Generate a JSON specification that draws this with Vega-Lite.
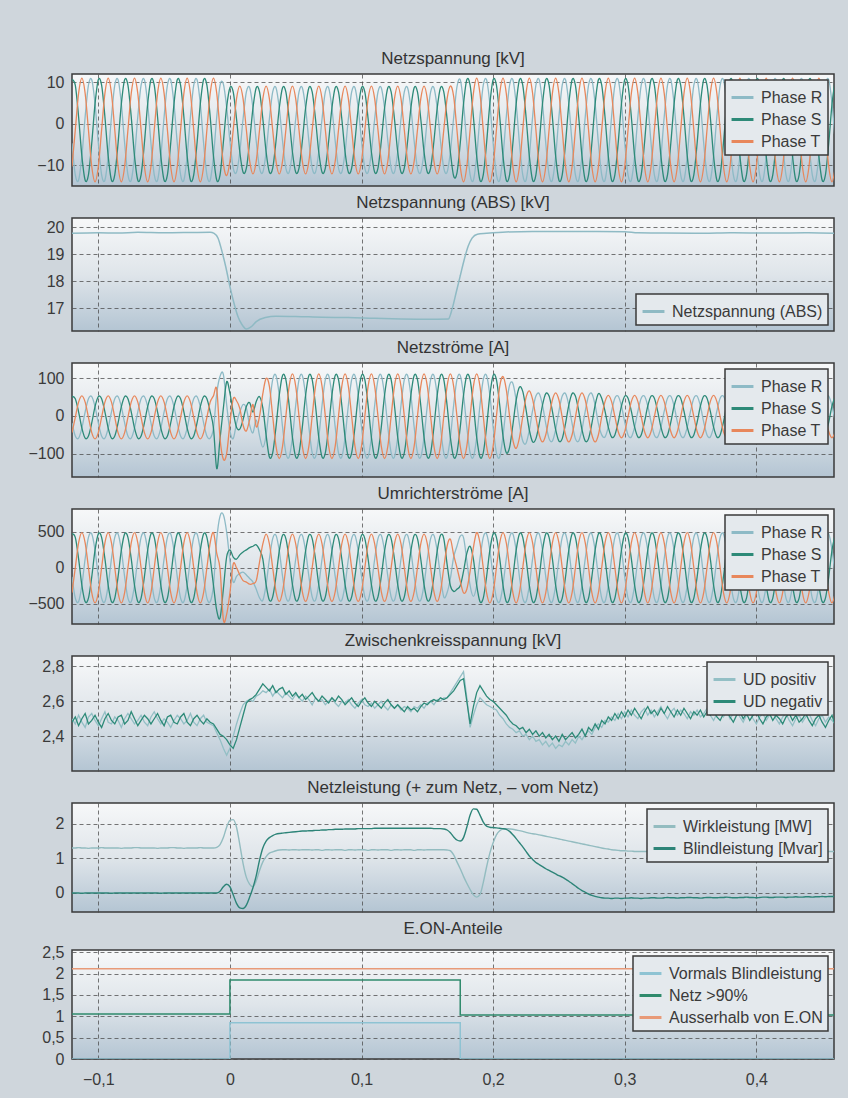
{
"$schema":"https://vega.github.io/schema/vega-lite/v6.json",
"background":"#cfd6dc",
"padding":{"left":27,"top":49,"right":15,"bottom":10},
"spacing":6,
"resolve":{"scale":{"color":"independent","x":"independent","y":"independent"},"legend":{"color":"independent"}},
"config":{
"font":"Liberation Sans",
"view":{"stroke":"#3a3a3a","strokeWidth":1.5,"fill":{"gradient":"linear","x1":0,"y1":0,"x2":0,"y2":1,"stops":[{"offset":0,"color":"#f7f8f9"},{"offset":0.5,"color":"#dfe5ea"},{"offset":1,"color":"#b4c5d3"}]}},
"axis":{"domain":false,"ticks":false,"grid":true,"gridColor":"#4a4a4a","gridDash":[4,3],"gridWidth":1,"gridOpacity":0.75,"labelFontSize":16,"labelColor":"#3a3a3a","labelPadding":8,"labelFont":"Liberation Sans"},
"title":{"fontSize":17,"fontWeight":"normal","color":"#333333","offset":6,"anchor":"middle","font":"Liberation Sans"},
"legend":{"orient":"top-right","offset":6,"padding":5,"strokeColor":"#3a3a3a","strokeWidth":1.5,"fillColor":"#e4e9ed","labelFontSize":16,"labelColor":"#3a3a3a","labelFont":"Liberation Sans","symbolType":"stroke","symbolStrokeWidth":3,"symbolSize":480,"rowPadding":1,"labelOffset":6}
},
"datasets":{
"w":[
{"t":-0.12,"a":-4.7,"b":10.6,"c":-10.3,"d":-18.8,"e":51.1,"f":-44.3,"g":-127,"h":473,"i":-346,"p":2.5,"n":2.48,"w":1.3,"q":0},
{"t":-0.1175,"a":-12.3,"b":9.3,"c":-1.5,"d":-53.4,"e":45.4,"f":-4,"g":-424,"h":424,"i":0,"p":2.47,"n":2.51,"w":1.3,"q":0},
{"t":-0.115,"a":-13.6,"b":1.7,"c":7.3,"d":-59.1,"e":10.8,"f":36.3,"g":-473,"h":127,"i":346,"p":2.52,"n":2.46,"w":1.31,"q":0},
{"t":-0.1125,"a":-7.8,"b":-7.8,"c":11,"d":-32.5,"e":-32.5,"f":53,"g":-245,"h":-245,"i":490,"p":2.48,"n":2.5,"w":1.3,"q":-0.01},
{"t":-0.11,"a":1.7,"b":-13.6,"c":7.3,"d":10.8,"e":-59.1,"f":36.3,"g":127,"h":-473,"i":346,"p":2.45,"n":2.53,"w":1.3,"q":0},
{"t":-0.1075,"a":9.3,"b":-12.3,"c":-1.5,"d":45.4,"e":-53.4,"f":-4,"g":424,"h":-424,"i":0,"p":2.51,"n":2.47,"w":1.29,"q":0},
{"t":-0.105,"a":10.6,"b":-4.7,"c":-10.3,"d":51.1,"e":-18.8,"f":-44.3,"g":473,"h":-127,"i":-346,"p":2.53,"n":2.49,"w":1.3,"q":0},
{"t":-0.1025,"a":4.8,"b":4.8,"c":-14,"d":24.5,"e":24.5,"f":-61,"g":245,"h":245,"i":-490,"p":2.49,"n":2.52,"w":1.3,"q":0},
{"t":-0.1,"a":-4.7,"b":10.6,"c":-10.3,"d":-18.8,"e":51.1,"f":-44.3,"g":-127,"h":473,"i":-346,"p":2.46,"n":2.48,"w":1.3,"q":0},
{"t":-0.0975,"a":-12.3,"b":9.3,"c":-1.5,"d":-53.4,"e":45.4,"f":-4,"g":-424,"h":424,"i":0,"p":2.5,"n":2.45,"w":1.31,"q":0},
{"t":-0.095,"a":-13.6,"b":1.7,"c":7.3,"d":-59.1,"e":10.8,"f":36.3,"g":-473,"h":127,"i":346,"p":2.54,"n":2.5,"w":1.3,"q":0},
{"t":-0.0925,"a":-7.8,"b":-7.8,"c":11,"d":-32.5,"e":-32.5,"f":53,"g":-245,"h":-245,"i":490,"p":2.48,"n":2.53,"w":1.3,"q":0},
{"t":-0.09,"a":1.7,"b":-13.6,"c":7.3,"d":10.8,"e":-59.1,"f":36.3,"g":127,"h":-473,"i":346,"p":2.47,"n":2.49,"w":1.3,"q":-0.01},
{"t":-0.0875,"a":9.3,"b":-12.3,"c":-1.5,"d":45.4,"e":-53.4,"f":-4,"g":424,"h":-424,"i":0,"p":2.51,"n":2.47,"w":1.3,"q":0},
{"t":-0.085,"a":10.6,"b":-4.7,"c":-10.3,"d":51.1,"e":-18.8,"f":-44.3,"g":473,"h":-127,"i":-346,"p":2.49,"n":2.51,"w":1.3,"q":0},
{"t":-0.0825,"a":4.8,"b":4.8,"c":-14,"d":24.5,"e":24.5,"f":-61,"g":245,"h":245,"i":-490,"p":2.45,"n":2.52,"w":1.29,"q":0},
{"t":-0.08,"a":-4.7,"b":10.6,"c":-10.3,"d":-18.8,"e":51.1,"f":-44.3,"g":-127,"h":473,"i":-346,"p":2.5,"n":2.47,"w":1.3,"q":0},
{"t":-0.0775,"a":-12.3,"b":9.3,"c":-1.5,"d":-53.4,"e":45.4,"f":-4,"g":-424,"h":424,"i":0,"p":2.53,"n":2.49,"w":1.3,"q":0},
{"t":-0.075,"a":-13.6,"b":1.7,"c":7.3,"d":-59.1,"e":10.8,"f":36.3,"g":-473,"h":127,"i":346,"p":2.5,"n":2.54,"w":1.3,"q":0},
{"t":-0.0725,"a":-7.8,"b":-7.8,"c":11,"d":-32.5,"e":-32.5,"f":53,"g":-245,"h":-245,"i":490,"p":2.47,"n":2.5,"w":1.31,"q":0},
{"t":-0.07,"a":1.7,"b":-13.6,"c":7.3,"d":10.8,"e":-59.1,"f":36.3,"g":127,"h":-473,"i":346,"p":2.49,"n":2.46,"w":1.31,"q":0},
{"t":-0.0675,"a":9.3,"b":-12.3,"c":-1.5,"d":45.4,"e":-53.4,"f":-4,"g":424,"h":-424,"i":0,"p":2.52,"n":2.49,"w":1.3,"q":0},
{"t":-0.065,"a":10.6,"b":-4.7,"c":-10.3,"d":51.1,"e":-18.8,"f":-44.3,"g":473,"h":-127,"i":-346,"p":2.48,"n":2.52,"w":1.3,"q":0},
{"t":-0.0625,"a":4.8,"b":4.8,"c":-14,"d":24.5,"e":24.5,"f":-61,"g":245,"h":245,"i":-490,"p":2.46,"n":2.5,"w":1.3,"q":0},
{"t":-0.06,"a":-4.7,"b":10.6,"c":-10.3,"d":-18.8,"e":51.1,"f":-44.3,"g":-127,"h":473,"i":-346,"p":2.51,"n":2.47,"w":1.3,"q":0},
{"t":-0.0575,"a":-12.3,"b":9.3,"c":-1.5,"d":-53.4,"e":45.4,"f":-4,"g":-424,"h":424,"i":0,"p":2.54,"n":2.5,"w":1.3,"q":0},
{"t":-0.055,"a":-13.6,"b":1.7,"c":7.3,"d":-59.1,"e":10.8,"f":36.3,"g":-473,"h":127,"i":346,"p":2.5,"n":2.53,"w":1.29,"q":0},
{"t":-0.0525,"a":-7.8,"b":-7.8,"c":11,"d":-32.5,"e":-32.5,"f":53,"g":-245,"h":-245,"i":490,"p":2.47,"n":2.49,"w":1.3,"q":-0.01},
{"t":-0.05,"a":1.7,"b":-13.6,"c":7.3,"d":10.8,"e":-59.1,"f":36.3,"g":127,"h":-473,"i":346,"p":2.5,"n":2.46,"w":1.3,"q":0},
{"t":-0.0475,"a":9.3,"b":-12.3,"c":-1.5,"d":45.4,"e":-53.4,"f":-4,"g":424,"h":-424,"i":0,"p":2.48,"n":2.51,"w":1.3,"q":0},
{"t":-0.045,"a":10.6,"b":-4.7,"c":-10.3,"d":51.1,"e":-18.8,"f":-44.3,"g":473,"h":-127,"i":-346,"p":2.45,"n":2.52,"w":1.31,"q":0},
{"t":-0.0425,"a":4.8,"b":4.8,"c":-14,"d":24.5,"e":24.5,"f":-61,"g":245,"h":245,"i":-490,"p":2.49,"n":2.48,"w":1.31,"q":0},
{"t":-0.04,"a":-4.7,"b":10.6,"c":-10.3,"d":-18.8,"e":51.1,"f":-44.3,"g":-127,"h":473,"i":-346,"p":2.52,"n":2.47,"w":1.3,"q":0},
{"t":-0.0375,"a":-12.3,"b":9.3,"c":-1.5,"d":-53.4,"e":45.4,"f":-4,"g":-424,"h":424,"i":0,"p":2.5,"n":2.51,"w":1.3,"q":0},
{"t":-0.035,"a":-13.6,"b":1.7,"c":7.3,"d":-59.1,"e":10.8,"f":36.3,"g":-473,"h":127,"i":346,"p":2.47,"n":2.53,"w":1.29,"q":0},
{"t":-0.0325,"a":-7.8,"b":-7.8,"c":11,"d":-32.5,"e":-32.5,"f":53,"g":-245,"h":-245,"i":490,"p":2.49,"n":2.48,"w":1.3,"q":0},
{"t":-0.03,"a":1.7,"b":-13.6,"c":7.3,"d":10.8,"e":-59.1,"f":36.3,"g":127,"h":-473,"i":346,"p":2.53,"n":2.46,"w":1.3,"q":0},
{"t":-0.0275,"a":9.3,"b":-12.3,"c":-1.5,"d":45.4,"e":-53.4,"f":-4,"g":424,"h":-424,"i":0,"p":2.48,"n":2.5,"w":1.3,"q":0},
{"t":-0.025,"a":10.6,"b":-4.7,"c":-10.3,"d":51.1,"e":-18.8,"f":-44.3,"g":473,"h":-127,"i":-346,"p":2.46,"n":2.52,"w":1.3,"q":0},
{"t":-0.0225,"a":4.8,"b":4.8,"c":-14,"d":24.5,"e":24.5,"f":-61,"g":245,"h":245,"i":-490,"p":2.5,"n":2.49,"w":1.31,"q":0},
{"t":-0.02,"a":-4.7,"b":10.6,"c":-10.3,"d":-18.8,"e":51.1,"f":-44.3,"g":-127,"h":473,"i":-346,"p":2.52,"n":2.47,"w":1.3,"q":0},
{"t":-0.0175,"a":-12.3,"b":9.3,"c":-1.5,"d":-53.4,"e":45.4,"f":-4,"g":-424,"h":424,"i":0,"p":2.48,"n":2.5,"w":1.3,"q":0},
{"t":-0.015,"a":-13.6,"b":1.7,"c":7.3,"d":-59.1,"e":10.8,"f":36.3,"g":-473,"h":127,"i":346,"p":2.47,"n":2.48,"w":1.3,"q":0},
{"t":-0.0125,"a":-7.8,"b":-7.8,"c":11,"d":-32.5,"e":-32.5,"f":53,"g":-245,"h":-245,"i":490,"p":2.46,"n":2.47,"w":1.3,"q":0},
{"t":-0.01,"a":1.7,"b":-13.6,"c":7.3,"d":60,"e":-140,"f":70,"g":400,"h":-600,"i":200,"p":2.42,"n":2.44,"w":1.32,"q":0},
{"t":-0.0075,"a":9.3,"b":-12.3,"c":-1.5,"d":105,"e":-60,"f":-60,"g":720,"h":-700,"i":-20,"p":2.38,"n":2.41,"w":1.4,"q":0.05},
{"t":-0.005,"a":9.6,"b":-4.5,"c":-9.6,"d":110,"e":20,"f":-115,"g":740,"h":-300,"i":-720,"p":2.33,"n":2.4,"w":1.6,"q":0.18},
{"t":-0.0025,"a":4,"b":4,"c":-12.5,"d":30,"e":90,"f":-100,"g":500,"h":150,"i":-650,"p":2.29,"n":2.38,"w":1.9,"q":0.25},
{"t":0,"a":-4.2,"b":8.7,"c":-9,"d":-40,"e":60,"f":-20,"g":100,"h":250,"i":-350,"p":2.33,"n":2.35,"w":2.1,"q":0.18},
{"t":0.0025,"a":-10.7,"b":7.7,"c":-1.5,"d":-60,"e":10,"f":45,"g":-200,"h":150,"i":50,"p":2.4,"n":2.33,"w":2.12,"q":-0.05},
{"t":0.005,"a":-11.7,"b":1.2,"c":6,"d":-20,"e":-30,"f":40,"g":-120,"h":120,"i":0,"p":2.47,"n":2.38,"w":1.9,"q":-0.3},
{"t":0.0075,"a":-6.8,"b":-6.8,"c":9.1,"d":10,"e":-35,"f":20,"g":-80,"h":180,"i":-100,"p":2.53,"n":2.45,"w":1.4,"q":-0.43},
{"t":0.01,"a":1.2,"b":-11.7,"c":6,"d":30,"e":-10,"f":-25,"g":-60,"h":220,"i":-180,"p":2.58,"n":2.52,"w":0.85,"q":-0.45},
{"t":0.0125,"a":7.7,"b":-10.7,"c":-1.5,"d":20,"e":25,"f":-40,"g":-100,"h":250,"i":-200,"p":2.6,"n":2.59,"w":0.45,"q":-0.35},
{"t":0.015,"a":8.7,"b":-4.2,"c":-9,"d":-25,"e":35,"f":-10,"g":-150,"h":280,"i":-230,"p":2.61,"n":2.61,"w":0.25,"q":-0.12},
{"t":0.0175,"a":3.8,"b":3.8,"c":-12.1,"d":-45,"e":10,"f":30,"g":-200,"h":300,"i":-220,"p":2.6,"n":2.62,"w":0.18,"q":0.15},
{"t":0.02,"a":-4.2,"b":8.7,"c":-9,"d":-11,"e":38,"f":-29,"g":-300,"h":320,"i":-180,"p":2.63,"n":2.64,"w":0.35,"q":0.5},
{"t":0.0225,"a":-10.7,"b":7.7,"c":-1.5,"d":-53,"e":51,"f":-1,"g":-420,"h":250,"i":80,"p":2.64,"n":2.67,"w":0.65,"q":0.95},
{"t":0.025,"a":-11.7,"b":1.2,"c":6,"d":-83,"e":21,"f":59,"g":-454,"h":122,"i":332,"p":2.66,"n":2.7,"w":0.9,"q":1.3},
{"t":0.0275,"a":-6.8,"b":-6.8,"c":9.1,"d":-51,"e":-51,"f":99,"g":-235,"h":-235,"i":470,"p":2.65,"n":2.68,"w":1.05,"q":1.5},
{"t":0.03,"a":1.2,"b":-11.7,"c":6,"d":28,"e":-109.2,"f":78.2,"g":122,"h":-454,"i":332,"p":2.67,"n":2.66,"w":1.15,"q":1.6},
{"t":0.0325,"a":7.7,"b":-10.7,"c":-1.5,"d":96,"e":-98,"f":-1,"g":407,"h":-407,"i":0,"p":2.63,"n":2.69,"w":1.19,"q":1.66},
{"t":0.035,"a":8.7,"b":-4.2,"c":-9,"d":107.2,"e":-30,"f":-80.2,"g":454,"h":-122,"i":-332,"p":2.66,"n":2.65,"w":1.22,"q":1.7},
{"t":0.0375,"a":3.8,"b":3.8,"c":-12.1,"d":55,"e":55,"f":-113,"g":235,"h":235,"i":-470,"p":2.64,"n":2.67,"w":1.24,"q":1.72},
{"t":0.04,"a":-4.2,"b":8.7,"c":-9,"d":-30,"e":107.2,"f":-80.2,"g":-122,"h":454,"i":-332,"p":2.62,"n":2.68,"w":1.25,"q":1.73},
{"t":0.0425,"a":-10.7,"b":7.7,"c":-1.5,"d":-98,"e":96,"f":-1,"g":-407,"h":407,"i":0,"p":2.65,"n":2.64,"w":1.25,"q":1.74},
{"t":0.045,"a":-11.7,"b":1.2,"c":6,"d":-109.2,"e":28,"f":78.2,"g":-454,"h":122,"i":332,"p":2.63,"n":2.66,"w":1.24,"q":1.75},
{"t":0.0475,"a":-6.8,"b":-6.8,"c":9.1,"d":-57,"e":-57,"f":111,"g":-235,"h":-235,"i":470,"p":2.61,"n":2.63,"w":1.25,"q":1.76},
{"t":0.05,"a":1.2,"b":-11.7,"c":6,"d":28,"e":-109.2,"f":78.2,"g":122,"h":-454,"i":332,"p":2.64,"n":2.65,"w":1.25,"q":1.77},
{"t":0.0525,"a":7.7,"b":-10.7,"c":-1.5,"d":96,"e":-98,"f":-1,"g":407,"h":-407,"i":0,"p":2.62,"n":2.62,"w":1.24,"q":1.78},
{"t":0.055,"a":8.7,"b":-4.2,"c":-9,"d":107.2,"e":-30,"f":-80.2,"g":454,"h":-122,"i":-332,"p":2.6,"n":2.64,"w":1.25,"q":1.79},
{"t":0.0575,"a":3.8,"b":3.8,"c":-12.1,"d":55,"e":55,"f":-113,"g":235,"h":235,"i":-470,"p":2.63,"n":2.61,"w":1.25,"q":1.79},
{"t":0.06,"a":-4.2,"b":8.7,"c":-9,"d":-30,"e":107.2,"f":-80.2,"g":-122,"h":454,"i":-332,"p":2.61,"n":2.63,"w":1.25,"q":1.8},
{"t":0.0625,"a":-10.7,"b":7.7,"c":-1.5,"d":-98,"e":96,"f":-1,"g":-407,"h":407,"i":0,"p":2.58,"n":2.65,"w":1.24,"q":1.8},
{"t":0.065,"a":-11.7,"b":1.2,"c":6,"d":-109.2,"e":28,"f":78.2,"g":-454,"h":122,"i":332,"p":2.62,"n":2.62,"w":1.25,"q":1.81},
{"t":0.0675,"a":-6.8,"b":-6.8,"c":9.1,"d":-57,"e":-57,"f":111,"g":-235,"h":-235,"i":470,"p":2.6,"n":2.6,"w":1.25,"q":1.81},
{"t":0.07,"a":1.2,"b":-11.7,"c":6,"d":28,"e":-109.2,"f":78.2,"g":122,"h":-454,"i":332,"p":2.61,"n":2.63,"w":1.23,"q":1.82},
{"t":0.0725,"a":7.7,"b":-10.7,"c":-1.5,"d":96,"e":-98,"f":-1,"g":407,"h":-407,"i":0,"p":2.58,"n":2.61,"w":1.25,"q":1.82},
{"t":0.075,"a":8.7,"b":-4.2,"c":-9,"d":107.2,"e":-30,"f":-80.2,"g":454,"h":-122,"i":-332,"p":2.6,"n":2.59,"w":1.25,"q":1.83},
{"t":0.0775,"a":3.8,"b":3.8,"c":-12.1,"d":55,"e":55,"f":-113,"g":235,"h":235,"i":-470,"p":2.62,"n":2.62,"w":1.24,"q":1.83},
{"t":0.08,"a":-4.2,"b":8.7,"c":-9,"d":-30,"e":107.2,"f":-80.2,"g":-122,"h":454,"i":-332,"p":2.59,"n":2.6,"w":1.25,"q":1.84},
{"t":0.0825,"a":-10.7,"b":7.7,"c":-1.5,"d":-98,"e":96,"f":-1,"g":-407,"h":407,"i":0,"p":2.57,"n":2.63,"w":1.25,"q":1.84},
{"t":0.085,"a":-11.7,"b":1.2,"c":6,"d":-109.2,"e":28,"f":78.2,"g":-454,"h":122,"i":332,"p":2.6,"n":2.61,"w":1.25,"q":1.84},
{"t":0.0875,"a":-6.8,"b":-6.8,"c":9.1,"d":-57,"e":-57,"f":111,"g":-235,"h":-235,"i":470,"p":2.59,"n":2.58,"w":1.23,"q":1.85},
{"t":0.09,"a":1.2,"b":-11.7,"c":6,"d":28,"e":-109.2,"f":78.2,"g":122,"h":-454,"i":332,"p":2.61,"n":2.6,"w":1.25,"q":1.85},
{"t":0.0925,"a":7.7,"b":-10.7,"c":-1.5,"d":96,"e":-98,"f":-1,"g":407,"h":-407,"i":0,"p":2.58,"n":2.62,"w":1.25,"q":1.85},
{"t":0.095,"a":8.7,"b":-4.2,"c":-9,"d":107.2,"e":-30,"f":-80.2,"g":454,"h":-122,"i":-332,"p":2.56,"n":2.59,"w":1.24,"q":1.85},
{"t":0.0975,"a":3.8,"b":3.8,"c":-12.1,"d":55,"e":55,"f":-113,"g":235,"h":235,"i":-470,"p":2.59,"n":2.57,"w":1.25,"q":1.86},
{"t":0.1,"a":-4.2,"b":8.7,"c":-9,"d":-30,"e":107.2,"f":-80.2,"g":-122,"h":454,"i":-332,"p":2.61,"n":2.6,"w":1.25,"q":1.86},
{"t":0.1025,"a":-10.7,"b":7.7,"c":-1.5,"d":-98,"e":96,"f":-1,"g":-407,"h":407,"i":0,"p":2.58,"n":2.62,"w":1.25,"q":1.86},
{"t":0.105,"a":-11.7,"b":1.2,"c":6,"d":-109.2,"e":28,"f":78.2,"g":-454,"h":122,"i":332,"p":2.57,"n":2.59,"w":1.23,"q":1.86},
{"t":0.1075,"a":-6.8,"b":-6.8,"c":9.1,"d":-57,"e":-57,"f":111,"g":-235,"h":-235,"i":470,"p":2.59,"n":2.57,"w":1.25,"q":1.86},
{"t":0.11,"a":1.2,"b":-11.7,"c":6,"d":28,"e":-109.2,"f":78.2,"g":122,"h":-454,"i":332,"p":2.56,"n":2.6,"w":1.25,"q":1.87},
{"t":0.1125,"a":7.7,"b":-10.7,"c":-1.5,"d":96,"e":-98,"f":-1,"g":407,"h":-407,"i":0,"p":2.58,"n":2.58,"w":1.24,"q":1.87},
{"t":0.115,"a":8.7,"b":-4.2,"c":-9,"d":107.2,"e":-30,"f":-80.2,"g":454,"h":-122,"i":-332,"p":2.6,"n":2.56,"w":1.25,"q":1.87},
{"t":0.1175,"a":3.8,"b":3.8,"c":-12.1,"d":55,"e":55,"f":-113,"g":235,"h":235,"i":-470,"p":2.57,"n":2.59,"w":1.25,"q":1.87},
{"t":0.12,"a":-4.2,"b":8.7,"c":-9,"d":-30,"e":107.2,"f":-80.2,"g":-122,"h":454,"i":-332,"p":2.55,"n":2.61,"w":1.25,"q":1.87},
{"t":0.1225,"a":-10.7,"b":7.7,"c":-1.5,"d":-98,"e":96,"f":-1,"g":-407,"h":407,"i":0,"p":2.58,"n":2.58,"w":1.23,"q":1.87},
{"t":0.125,"a":-11.7,"b":1.2,"c":6,"d":-109.2,"e":28,"f":78.2,"g":-454,"h":122,"i":332,"p":2.56,"n":2.56,"w":1.25,"q":1.87},
{"t":0.1275,"a":-6.8,"b":-6.8,"c":9.1,"d":-57,"e":-57,"f":111,"g":-235,"h":-235,"i":470,"p":2.58,"n":2.58,"w":1.25,"q":1.87},
{"t":0.13,"a":1.2,"b":-11.7,"c":6,"d":28,"e":-109.2,"f":78.2,"g":122,"h":-454,"i":332,"p":2.55,"n":2.56,"w":1.24,"q":1.87},
{"t":0.1325,"a":7.7,"b":-10.7,"c":-1.5,"d":96,"e":-98,"f":-1,"g":407,"h":-407,"i":0,"p":2.57,"n":2.54,"w":1.25,"q":1.87},
{"t":0.135,"a":8.7,"b":-4.2,"c":-9,"d":107.2,"e":-30,"f":-80.2,"g":454,"h":-122,"i":-332,"p":2.56,"n":2.57,"w":1.25,"q":1.87},
{"t":0.1375,"a":3.8,"b":3.8,"c":-12.1,"d":55,"e":55,"f":-113,"g":235,"h":235,"i":-470,"p":2.54,"n":2.55,"w":1.25,"q":1.87},
{"t":0.14,"a":-4.2,"b":8.7,"c":-9,"d":-30,"e":107.2,"f":-80.2,"g":-122,"h":454,"i":-332,"p":2.57,"n":2.56,"w":1.23,"q":1.87},
{"t":0.1425,"a":-10.7,"b":7.7,"c":-1.5,"d":-98,"e":96,"f":-1,"g":-407,"h":407,"i":0,"p":2.56,"n":2.54,"w":1.25,"q":1.87},
{"t":0.145,"a":-11.7,"b":1.2,"c":6,"d":-109.2,"e":28,"f":78.2,"g":-454,"h":122,"i":332,"p":2.58,"n":2.57,"w":1.25,"q":1.87},
{"t":0.1475,"a":-6.8,"b":-6.8,"c":9.1,"d":-57,"e":-57,"f":111,"g":-235,"h":-235,"i":470,"p":2.56,"n":2.59,"w":1.24,"q":1.87},
{"t":0.15,"a":1.2,"b":-11.7,"c":6,"d":28,"e":-109.2,"f":78.2,"g":122,"h":-454,"i":332,"p":2.59,"n":2.58,"w":1.25,"q":1.87},
{"t":0.1525,"a":7.7,"b":-10.7,"c":-1.5,"d":96,"e":-98,"f":-1,"g":407,"h":-407,"i":0,"p":2.6,"n":2.6,"w":1.25,"q":1.87},
{"t":0.155,"a":8.7,"b":-4.2,"c":-9,"d":107.2,"e":-30,"f":-80.2,"g":454,"h":-122,"i":-332,"p":2.58,"n":2.61,"w":1.25,"q":1.86},
{"t":0.1575,"a":3.8,"b":3.8,"c":-12.1,"d":55,"e":55,"f":-113,"g":235,"h":235,"i":-470,"p":2.61,"n":2.6,"w":1.25,"q":1.86},
{"t":0.16,"a":-4.2,"b":8.7,"c":-9,"d":-30,"e":107.2,"f":-80.2,"g":-122,"h":454,"i":-332,"p":2.6,"n":2.62,"w":1.25,"q":1.86},
{"t":0.1625,"a":-10.7,"b":7.7,"c":-1.5,"d":-98,"e":96,"f":-1,"g":-407,"h":407,"i":0,"p":2.62,"n":2.61,"w":1.25,"q":1.85},
{"t":0.165,"a":-11.7,"b":1.2,"c":6,"d":-109.2,"e":28,"f":78.2,"g":-350,"h":50,"i":300,"p":2.62,"n":2.62,"w":1.24,"q":1.82},
{"t":0.1675,"a":-6.8,"b":-6.8,"c":9.1,"d":-57,"e":-57,"f":111,"g":-150,"h":-250,"i":400,"p":2.65,"n":2.64,"w":1.22,"q":1.74},
{"t":0.17,"a":1.5,"b":-12.6,"c":6.6,"d":28,"e":-109.2,"f":78.2,"g":150,"h":-330,"i":180,"p":2.68,"n":2.66,"w":1.1,"q":1.62},
{"t":0.1725,"a":8.9,"b":-11.9,"c":-1.5,"d":96,"e":-98,"f":-1,"g":300,"h":-300,"i":0,"p":2.71,"n":2.69,"w":0.9,"q":1.53},
{"t":0.175,"a":10.6,"b":-4.7,"c":-10.3,"d":107.2,"e":-30,"f":-80.2,"g":440,"h":-250,"i":-190,"p":2.74,"n":2.72,"w":0.7,"q":1.5},
{"t":0.1775,"a":4.8,"b":4.8,"c":-14,"d":55,"e":55,"f":-113,"g":420,"h":-50,"i":-350,"p":2.77,"n":2.73,"w":0.48,"q":1.6},
{"t":0.18,"a":-4.7,"b":10.6,"c":-10.3,"d":-30,"e":107.2,"f":-80.2,"g":100,"h":200,"i":-300,"p":2.62,"n":2.6,"w":0.28,"q":1.9},
{"t":0.1825,"a":-12.3,"b":9.3,"c":-1.5,"d":-98,"e":96,"f":-1,"g":-250,"h":300,"i":-50,"p":2.45,"n":2.47,"w":0.1,"q":2.25},
{"t":0.185,"a":-13.6,"b":1.7,"c":7.3,"d":-109.2,"e":28,"f":78.2,"g":-400,"h":120,"i":280,"p":2.52,"n":2.57,"w":-0.05,"q":2.43},
{"t":0.1875,"a":-7.8,"b":-7.8,"c":11,"d":-57,"e":-57,"f":111,"g":-245,"h":-245,"i":490,"p":2.58,"n":2.65,"w":-0.12,"q":2.42},
{"t":0.19,"a":1.7,"b":-13.6,"c":7.3,"d":28,"e":-109.2,"f":78.2,"g":127,"h":-473,"i":346,"p":2.62,"n":2.69,"w":-0.05,"q":2.25},
{"t":0.1925,"a":9.3,"b":-12.3,"c":-1.5,"d":96,"e":-98,"f":-1,"g":424,"h":-424,"i":0,"p":2.6,"n":2.66,"w":0.3,"q":2.05},
{"t":0.195,"a":10.6,"b":-4.7,"c":-10.3,"d":107.2,"e":-30,"f":-80.2,"g":473,"h":-127,"i":-346,"p":2.58,"n":2.63,"w":0.75,"q":1.93},
{"t":0.1975,"a":4.8,"b":4.8,"c":-14,"d":55,"e":55,"f":-113,"g":245,"h":245,"i":-490,"p":2.57,"n":2.61,"w":1.15,"q":1.9},
{"t":0.2,"a":-4.7,"b":10.6,"c":-10.3,"d":-30,"e":107.2,"f":-80.2,"g":-127,"h":473,"i":-346,"p":2.56,"n":2.6,"w":1.45,"q":1.89},
{"t":0.2025,"a":-12.3,"b":9.3,"c":-1.5,"d":-98,"e":96,"f":-1,"g":-424,"h":424,"i":0,"p":2.55,"n":2.58,"w":1.68,"q":1.88},
{"t":0.205,"a":-13.6,"b":1.7,"c":7.3,"d":-109.2,"e":28,"f":78.2,"g":-473,"h":127,"i":346,"p":2.52,"n":2.56,"w":1.8,"q":1.87},
{"t":0.2075,"a":-7.8,"b":-7.8,"c":11,"d":-53.5,"e":-53.5,"f":104,"g":-245,"h":-245,"i":490,"p":2.5,"n":2.54,"w":1.85,"q":1.86},
{"t":0.21,"a":1.7,"b":-13.6,"c":7.3,"d":25,"e":-97.6,"f":69.7,"g":127,"h":-473,"i":346,"p":2.47,"n":2.52,"w":1.86,"q":1.84},
{"t":0.2125,"a":9.3,"b":-12.3,"c":-1.5,"d":81.3,"e":-83.3,"f":-1,"g":424,"h":-424,"i":0,"p":2.45,"n":2.49,"w":1.85,"q":1.78},
{"t":0.215,"a":10.6,"b":-4.7,"c":-10.3,"d":85.9,"e":-24.3,"f":-64.6,"g":473,"h":-127,"i":-346,"p":2.44,"n":2.47,"w":1.84,"q":1.68},
{"t":0.2175,"a":4.8,"b":4.8,"c":-14,"d":41.5,"e":41.5,"f":-86,"g":245,"h":245,"i":-490,"p":2.42,"n":2.46,"w":1.82,"q":1.57},
{"t":0.22,"a":-4.7,"b":10.6,"c":-10.3,"d":-21.7,"e":76.3,"f":-57.6,"g":-127,"h":473,"i":-346,"p":2.43,"n":2.44,"w":1.8,"q":1.45},
{"t":0.2225,"a":-12.3,"b":9.3,"c":-1.5,"d":-66.8,"e":64.8,"f":-2,"g":-424,"h":424,"i":0,"p":2.4,"n":2.45,"w":1.78,"q":1.33},
{"t":0.225,"a":-13.6,"b":1.7,"c":7.3,"d":-72.6,"e":16.6,"f":48.9,"g":-473,"h":127,"i":346,"p":2.41,"n":2.42,"w":1.75,"q":1.2},
{"t":0.2275,"a":-7.8,"b":-7.8,"c":11,"d":-37.5,"e":-37.5,"f":66,"g":-245,"h":-245,"i":490,"p":2.38,"n":2.44,"w":1.73,"q":1.07},
{"t":0.23,"a":1.7,"b":-13.6,"c":7.3,"d":14.4,"e":-68.7,"f":43.4,"g":127,"h":-473,"i":346,"p":2.4,"n":2.41,"w":1.71,"q":0.97},
{"t":0.2325,"a":9.3,"b":-12.3,"c":-1.5,"d":52.3,"e":-60.3,"f":-4,"g":424,"h":-424,"i":0,"p":2.37,"n":2.43,"w":1.7,"q":0.88},
{"t":0.235,"a":10.6,"b":-4.7,"c":-10.3,"d":58.8,"e":-20.8,"f":-50,"g":473,"h":-127,"i":-346,"p":2.38,"n":2.4,"w":1.68,"q":0.82},
{"t":0.2375,"a":4.8,"b":4.8,"c":-14,"d":28.5,"e":28.5,"f":-69,"g":245,"h":245,"i":-490,"p":2.35,"n":2.42,"w":1.66,"q":0.76},
{"t":0.24,"a":-4.7,"b":10.6,"c":-10.3,"d":-20.8,"e":58.8,"f":-50,"g":-127,"h":473,"i":-346,"p":2.37,"n":2.39,"w":1.64,"q":0.7},
{"t":0.2425,"a":-12.3,"b":9.3,"c":-1.5,"d":-60.3,"e":52.3,"f":-4,"g":-424,"h":424,"i":0,"p":2.34,"n":2.41,"w":1.62,"q":0.65},
{"t":0.245,"a":-13.6,"b":1.7,"c":7.3,"d":-66.8,"e":12.8,"f":42,"g":-473,"h":127,"i":346,"p":2.36,"n":2.38,"w":1.6,"q":0.6},
{"t":0.2475,"a":-7.8,"b":-7.8,"c":11,"d":-36.5,"e":-36.5,"f":61,"g":-245,"h":-245,"i":490,"p":2.33,"n":2.4,"w":1.58,"q":0.55},
{"t":0.25,"a":1.7,"b":-13.6,"c":7.3,"d":12.8,"e":-66.8,"f":42,"g":127,"h":-473,"i":346,"p":2.35,"n":2.37,"w":1.56,"q":0.5},
{"t":0.2525,"a":9.3,"b":-12.3,"c":-1.5,"d":52.3,"e":-60.3,"f":-4,"g":424,"h":-424,"i":0,"p":2.34,"n":2.41,"w":1.54,"q":0.46},
{"t":0.255,"a":10.6,"b":-4.7,"c":-10.3,"d":58.8,"e":-20.8,"f":-50,"g":473,"h":-127,"i":-346,"p":2.37,"n":2.38,"w":1.52,"q":0.4},
{"t":0.2575,"a":4.8,"b":4.8,"c":-14,"d":28.5,"e":28.5,"f":-69,"g":245,"h":245,"i":-490,"p":2.35,"n":2.4,"w":1.5,"q":0.34},
{"t":0.26,"a":-4.7,"b":10.6,"c":-10.3,"d":-20.8,"e":58.8,"f":-50,"g":-127,"h":473,"i":-346,"p":2.38,"n":2.42,"w":1.48,"q":0.27},
{"t":0.2625,"a":-12.3,"b":9.3,"c":-1.5,"d":-60.3,"e":52.3,"f":-4,"g":-424,"h":424,"i":0,"p":2.36,"n":2.39,"w":1.46,"q":0.2},
{"t":0.265,"a":-13.6,"b":1.7,"c":7.3,"d":-66.8,"e":12.8,"f":42,"g":-473,"h":127,"i":346,"p":2.4,"n":2.41,"w":1.44,"q":0.13},
{"t":0.2675,"a":-7.8,"b":-7.8,"c":11,"d":-36.5,"e":-36.5,"f":61,"g":-245,"h":-245,"i":490,"p":2.38,"n":2.44,"w":1.42,"q":0.07},
{"t":0.27,"a":1.7,"b":-13.6,"c":7.3,"d":12.8,"e":-66.8,"f":42,"g":127,"h":-473,"i":346,"p":2.41,"n":2.4,"w":1.4,"q":0.02},
{"t":0.2725,"a":9.3,"b":-12.3,"c":-1.5,"d":52.3,"e":-60.3,"f":-4,"g":424,"h":-424,"i":0,"p":2.43,"n":2.45,"w":1.38,"q":-0.03},
{"t":0.275,"a":10.6,"b":-4.7,"c":-10.3,"d":58.8,"e":-20.8,"f":-50,"g":473,"h":-127,"i":-346,"p":2.41,"n":2.43,"w":1.36,"q":-0.07},
{"t":0.2775,"a":4.8,"b":4.8,"c":-14,"d":28.5,"e":28.5,"f":-69,"g":245,"h":245,"i":-490,"p":2.45,"n":2.47,"w":1.34,"q":-0.1},
{"t":0.28,"a":-4.7,"b":10.6,"c":-10.3,"d":-20.8,"e":58.8,"f":-50,"g":-127,"h":473,"i":-346,"p":2.47,"n":2.44,"w":1.32,"q":-0.12},
{"t":0.2825,"a":-12.3,"b":9.3,"c":-1.5,"d":-50.5,"e":46.5,"f":-2,"g":-424,"h":424,"i":0,"p":2.45,"n":2.49,"w":1.3,"q":-0.14},
{"t":0.285,"a":-13.6,"b":1.7,"c":7.3,"d":-56.1,"e":12.5,"f":37.6,"g":-473,"h":127,"i":346,"p":2.49,"n":2.47,"w":1.28,"q":-0.15},
{"t":0.2875,"a":-7.8,"b":-7.8,"c":11,"d":-30,"e":-30,"f":54,"g":-245,"h":-245,"i":490,"p":2.48,"n":2.51,"w":1.27,"q":-0.15},
{"t":0.29,"a":1.7,"b":-13.6,"c":7.3,"d":12.5,"e":-56.1,"f":37.6,"g":127,"h":-473,"i":346,"p":2.51,"n":2.49,"w":1.25,"q":-0.16},
{"t":0.2925,"a":9.3,"b":-12.3,"c":-1.5,"d":46.5,"e":-50.5,"f":-2,"g":424,"h":-424,"i":0,"p":2.49,"n":2.53,"w":1.24,"q":-0.15},
{"t":0.295,"a":10.6,"b":-4.7,"c":-10.3,"d":52.1,"e":-16.5,"f":-41.6,"g":473,"h":-127,"i":-346,"p":2.53,"n":2.5,"w":1.23,"q":-0.15},
{"t":0.2975,"a":4.8,"b":4.8,"c":-14,"d":26,"e":26,"f":-58,"g":245,"h":245,"i":-490,"p":2.5,"n":2.54,"w":1.22,"q":-0.16},
{"t":0.3,"a":-4.7,"b":10.6,"c":-10.3,"d":-16.5,"e":52.1,"f":-41.6,"g":-127,"h":473,"i":-346,"p":2.54,"n":2.51,"w":1.22,"q":-0.15},
{"t":0.3025,"a":-12.3,"b":9.3,"c":-1.5,"d":-50.5,"e":46.5,"f":-2,"g":-424,"h":424,"i":0,"p":2.51,"n":2.55,"w":1.21,"q":-0.15},
{"t":0.305,"a":-13.6,"b":1.7,"c":7.3,"d":-56.1,"e":12.5,"f":37.6,"g":-473,"h":127,"i":346,"p":2.55,"n":2.52,"w":1.21,"q":-0.14},
{"t":0.3075,"a":-7.8,"b":-7.8,"c":11,"d":-30,"e":-30,"f":54,"g":-245,"h":-245,"i":490,"p":2.52,"n":2.56,"w":1.2,"q":-0.15},
{"t":0.31,"a":1.7,"b":-13.6,"c":7.3,"d":12.5,"e":-56.1,"f":37.6,"g":127,"h":-473,"i":346,"p":2.5,"n":2.53,"w":1.2,"q":-0.15},
{"t":0.3125,"a":9.3,"b":-12.3,"c":-1.5,"d":46.5,"e":-50.5,"f":-2,"g":424,"h":-424,"i":0,"p":2.54,"n":2.5,"w":1.2,"q":-0.16},
{"t":0.315,"a":10.6,"b":-4.7,"c":-10.3,"d":52.1,"e":-16.5,"f":-41.6,"g":473,"h":-127,"i":-346,"p":2.56,"n":2.54,"w":1.2,"q":-0.15},
{"t":0.3175,"a":4.8,"b":4.8,"c":-14,"d":26,"e":26,"f":-58,"g":245,"h":245,"i":-490,"p":2.52,"n":2.57,"w":1.2,"q":-0.15},
{"t":0.32,"a":-4.7,"b":10.6,"c":-10.3,"d":-16.5,"e":52.1,"f":-41.6,"g":-127,"h":473,"i":-346,"p":2.55,"n":2.53,"w":1.2,"q":-0.14},
{"t":0.3225,"a":-12.3,"b":9.3,"c":-1.5,"d":-50.5,"e":46.5,"f":-2,"g":-424,"h":424,"i":0,"p":2.51,"n":2.55,"w":1.2,"q":-0.14},
{"t":0.325,"a":-13.6,"b":1.7,"c":7.3,"d":-56.1,"e":12.5,"f":37.6,"g":-473,"h":127,"i":346,"p":2.54,"n":2.52,"w":1.2,"q":-0.15},
{"t":0.3275,"a":-7.8,"b":-7.8,"c":11,"d":-30,"e":-30,"f":54,"g":-245,"h":-245,"i":490,"p":2.57,"n":2.56,"w":1.2,"q":-0.15},
{"t":0.33,"a":1.7,"b":-13.6,"c":7.3,"d":12.5,"e":-56.1,"f":37.6,"g":127,"h":-473,"i":346,"p":2.53,"n":2.53,"w":1.2,"q":-0.14},
{"t":0.3325,"a":9.3,"b":-12.3,"c":-1.5,"d":46.5,"e":-50.5,"f":-2,"g":424,"h":-424,"i":0,"p":2.5,"n":2.57,"w":1.2,"q":-0.13},
{"t":0.335,"a":10.6,"b":-4.7,"c":-10.3,"d":52.1,"e":-16.5,"f":-41.6,"g":473,"h":-127,"i":-346,"p":2.54,"n":2.54,"w":1.2,"q":-0.14},
{"t":0.3375,"a":4.8,"b":4.8,"c":-14,"d":26,"e":26,"f":-58,"g":245,"h":245,"i":-490,"p":2.56,"n":2.51,"w":1.2,"q":-0.14},
{"t":0.34,"a":-4.7,"b":10.6,"c":-10.3,"d":-16.5,"e":52.1,"f":-41.6,"g":-127,"h":473,"i":-346,"p":2.52,"n":2.55,"w":1.2,"q":-0.15},
{"t":0.3425,"a":-12.3,"b":9.3,"c":-1.5,"d":-50.5,"e":46.5,"f":-2,"g":-424,"h":424,"i":0,"p":2.55,"n":2.52,"w":1.2,"q":-0.14},
{"t":0.345,"a":-13.6,"b":1.7,"c":7.3,"d":-56.1,"e":12.5,"f":37.6,"g":-473,"h":127,"i":346,"p":2.53,"n":2.56,"w":1.2,"q":-0.14},
{"t":0.3475,"a":-7.8,"b":-7.8,"c":11,"d":-30,"e":-30,"f":54,"g":-245,"h":-245,"i":490,"p":2.5,"n":2.53,"w":1.2,"q":-0.13},
{"t":0.35,"a":1.7,"b":-13.6,"c":7.3,"d":12.5,"e":-56.1,"f":37.6,"g":127,"h":-473,"i":346,"p":2.54,"n":2.5,"w":1.2,"q":-0.13},
{"t":0.3525,"a":9.3,"b":-12.3,"c":-1.5,"d":46.5,"e":-50.5,"f":-2,"g":424,"h":-424,"i":0,"p":2.52,"n":2.54,"w":1.2,"q":-0.14},
{"t":0.355,"a":10.6,"b":-4.7,"c":-10.3,"d":52.1,"e":-16.5,"f":-41.6,"g":473,"h":-127,"i":-346,"p":2.55,"n":2.52,"w":1.2,"q":-0.14},
{"t":0.3575,"a":4.8,"b":4.8,"c":-14,"d":26,"e":26,"f":-58,"g":245,"h":245,"i":-490,"p":2.51,"n":2.55,"w":1.2,"q":-0.15},
{"t":0.36,"a":-4.7,"b":10.6,"c":-10.3,"d":-16.5,"e":52.1,"f":-41.6,"g":-127,"h":473,"i":-346,"p":2.53,"n":2.51,"w":1.2,"q":-0.14},
{"t":0.3625,"a":-12.3,"b":9.3,"c":-1.5,"d":-50.5,"e":46.5,"f":-2,"g":-424,"h":424,"i":0,"p":2.56,"n":2.54,"w":1.2,"q":-0.13},
{"t":0.365,"a":-13.6,"b":1.7,"c":7.3,"d":-56.1,"e":12.5,"f":37.6,"g":-473,"h":127,"i":346,"p":2.52,"n":2.52,"w":1.2,"q":-0.13},
{"t":0.3675,"a":-7.8,"b":-7.8,"c":11,"d":-30,"e":-30,"f":54,"g":-245,"h":-245,"i":490,"p":2.49,"n":2.55,"w":1.2,"q":-0.14},
{"t":0.37,"a":1.7,"b":-13.6,"c":7.3,"d":12.5,"e":-56.1,"f":37.6,"g":127,"h":-473,"i":346,"p":2.53,"n":2.51,"w":1.2,"q":-0.14},
{"t":0.3725,"a":9.3,"b":-12.3,"c":-1.5,"d":46.5,"e":-50.5,"f":-2,"g":424,"h":-424,"i":0,"p":2.55,"n":2.49,"w":1.2,"q":-0.13},
{"t":0.375,"a":10.6,"b":-4.7,"c":-10.3,"d":52.1,"e":-16.5,"f":-41.6,"g":473,"h":-127,"i":-346,"p":2.51,"n":2.53,"w":1.2,"q":-0.13},
{"t":0.3775,"a":4.8,"b":4.8,"c":-14,"d":26,"e":26,"f":-58,"g":245,"h":245,"i":-490,"p":2.54,"n":2.55,"w":1.2,"q":-0.12},
{"t":0.38,"a":-4.7,"b":10.6,"c":-10.3,"d":-16.5,"e":52.1,"f":-41.6,"g":-127,"h":473,"i":-346,"p":2.5,"n":2.51,"w":1.2,"q":-0.13},
{"t":0.3825,"a":-12.3,"b":9.3,"c":-1.5,"d":-50.5,"e":46.5,"f":-2,"g":-424,"h":424,"i":0,"p":2.53,"n":2.48,"w":1.2,"q":-0.14},
{"t":0.385,"a":-13.6,"b":1.7,"c":7.3,"d":-56.1,"e":12.5,"f":37.6,"g":-473,"h":127,"i":346,"p":2.55,"n":2.52,"w":1.2,"q":-0.14},
{"t":0.3875,"a":-7.8,"b":-7.8,"c":11,"d":-30,"e":-30,"f":54,"g":-245,"h":-245,"i":490,"p":2.51,"n":2.54,"w":1.2,"q":-0.13},
{"t":0.39,"a":1.7,"b":-13.6,"c":7.3,"d":12.5,"e":-56.1,"f":37.6,"g":127,"h":-473,"i":346,"p":2.48,"n":2.5,"w":1.2,"q":-0.13},
{"t":0.3925,"a":9.3,"b":-12.3,"c":-1.5,"d":46.5,"e":-50.5,"f":-2,"g":424,"h":-424,"i":0,"p":2.52,"n":2.53,"w":1.2,"q":-0.12},
{"t":0.395,"a":10.6,"b":-4.7,"c":-10.3,"d":52.1,"e":-16.5,"f":-41.6,"g":473,"h":-127,"i":-346,"p":2.54,"n":2.49,"w":1.2,"q":-0.13},
{"t":0.3975,"a":4.8,"b":4.8,"c":-14,"d":26,"e":26,"f":-58,"g":245,"h":245,"i":-490,"p":2.5,"n":2.52,"w":1.2,"q":-0.13},
{"t":0.4,"a":-4.7,"b":10.6,"c":-10.3,"d":-16.5,"e":52.1,"f":-41.6,"g":-127,"h":473,"i":-346,"p":2.47,"n":2.54,"w":1.2,"q":-0.14},
{"t":0.4025,"a":-12.3,"b":9.3,"c":-1.5,"d":-50.5,"e":46.5,"f":-2,"g":-424,"h":424,"i":0,"p":2.51,"n":2.5,"w":1.2,"q":-0.13},
{"t":0.405,"a":-13.6,"b":1.7,"c":7.3,"d":-56.1,"e":12.5,"f":37.6,"g":-473,"h":127,"i":346,"p":2.53,"n":2.47,"w":1.2,"q":-0.12},
{"t":0.4075,"a":-7.8,"b":-7.8,"c":11,"d":-30,"e":-30,"f":54,"g":-245,"h":-245,"i":490,"p":2.49,"n":2.51,"w":1.2,"q":-0.12},
{"t":0.41,"a":1.7,"b":-13.6,"c":7.3,"d":12.5,"e":-56.1,"f":37.6,"g":127,"h":-473,"i":346,"p":2.52,"n":2.53,"w":1.2,"q":-0.13},
{"t":0.4125,"a":9.3,"b":-12.3,"c":-1.5,"d":46.5,"e":-50.5,"f":-2,"g":424,"h":-424,"i":0,"p":2.54,"n":2.49,"w":1.2,"q":-0.13},
{"t":0.415,"a":10.6,"b":-4.7,"c":-10.3,"d":52.1,"e":-16.5,"f":-41.6,"g":473,"h":-127,"i":-346,"p":2.5,"n":2.52,"w":1.2,"q":-0.12},
{"t":0.4175,"a":4.8,"b":4.8,"c":-14,"d":26,"e":26,"f":-58,"g":245,"h":245,"i":-490,"p":2.47,"n":2.5,"w":1.2,"q":-0.12},
{"t":0.42,"a":-4.7,"b":10.6,"c":-10.3,"d":-16.5,"e":52.1,"f":-41.6,"g":-127,"h":473,"i":-346,"p":2.51,"n":2.47,"w":1.2,"q":-0.12},
{"t":0.4225,"a":-12.3,"b":9.3,"c":-1.5,"d":-50.5,"e":46.5,"f":-2,"g":-424,"h":424,"i":0,"p":2.53,"n":2.51,"w":1.2,"q":-0.13},
{"t":0.425,"a":-13.6,"b":1.7,"c":7.3,"d":-56.1,"e":12.5,"f":37.6,"g":-473,"h":127,"i":346,"p":2.49,"n":2.53,"w":1.2,"q":-0.12},
{"t":0.4275,"a":-7.8,"b":-7.8,"c":11,"d":-30,"e":-30,"f":54,"g":-245,"h":-245,"i":490,"p":2.46,"n":2.49,"w":1.2,"q":-0.12},
{"t":0.43,"a":1.7,"b":-13.6,"c":7.3,"d":12.5,"e":-56.1,"f":37.6,"g":127,"h":-473,"i":346,"p":2.5,"n":2.52,"w":1.2,"q":-0.11},
{"t":0.4325,"a":9.3,"b":-12.3,"c":-1.5,"d":46.5,"e":-50.5,"f":-2,"g":424,"h":-424,"i":0,"p":2.52,"n":2.48,"w":1.2,"q":-0.12},
{"t":0.435,"a":10.6,"b":-4.7,"c":-10.3,"d":52.1,"e":-16.5,"f":-41.6,"g":473,"h":-127,"i":-346,"p":2.48,"n":2.5,"w":1.2,"q":-0.12},
{"t":0.4375,"a":4.8,"b":4.8,"c":-14,"d":26,"e":26,"f":-58,"g":245,"h":245,"i":-490,"p":2.51,"n":2.53,"w":1.2,"q":-0.11},
{"t":0.44,"a":-4.7,"b":10.6,"c":-10.3,"d":-16.5,"e":52.1,"f":-41.6,"g":-127,"h":473,"i":-346,"p":2.53,"n":2.49,"w":1.2,"q":-0.11},
{"t":0.4425,"a":-12.3,"b":9.3,"c":-1.5,"d":-50.5,"e":46.5,"f":-2,"g":-424,"h":424,"i":0,"p":2.49,"n":2.46,"w":1.2,"q":-0.12},
{"t":0.445,"a":-13.6,"b":1.7,"c":7.3,"d":-56.1,"e":12.5,"f":37.6,"g":-473,"h":127,"i":346,"p":2.46,"n":2.5,"w":1.2,"q":-0.11},
{"t":0.4475,"a":-7.8,"b":-7.8,"c":11,"d":-30,"e":-30,"f":54,"g":-245,"h":-245,"i":490,"p":2.5,"n":2.52,"w":1.2,"q":-0.11},
{"t":0.45,"a":1.7,"b":-13.6,"c":7.3,"d":12.5,"e":-56.1,"f":37.6,"g":127,"h":-473,"i":346,"p":2.52,"n":2.48,"w":1.2,"q":-0.1},
{"t":0.4525,"a":9.3,"b":-12.3,"c":-1.5,"d":46.5,"e":-50.5,"f":-2,"g":424,"h":-424,"i":0,"p":2.48,"n":2.45,"w":1.2,"q":-0.11},
{"t":0.455,"a":10.6,"b":-4.7,"c":-10.3,"d":52.1,"e":-16.5,"f":-41.6,"g":473,"h":-127,"i":-346,"p":2.51,"n":2.49,"w":1.2,"q":-0.1},
{"t":0.4575,"a":4.8,"b":4.8,"c":-14,"d":26,"e":26,"f":-58,"g":245,"h":245,"i":-490,"p":2.49,"n":2.52,"w":1.2,"q":-0.1},
{"t":0.46,"a":-4.7,"b":10.6,"c":-10.3,"d":-16.5,"e":52.1,"f":-41.6,"g":-127,"h":473,"i":-346,"p":2.47,"n":2.46,"w":1.2,"q":-0.1}
],
"abs":[
{"t":-0.12,"v":19.78},{"t":-0.1,"v":19.8},{"t":-0.085,"v":19.79},{"t":-0.07,"v":19.82},{"t":-0.05,"v":19.8},{"t":-0.03,"v":19.81},{"t":-0.015,"v":19.82},{"t":-0.012,"v":19.78},{"t":-0.009,"v":19.6},{"t":-0.006,"v":19.1},{"t":-0.003,"v":18.5},{"t":0,"v":17.8},{"t":0.003,"v":17.2},{"t":0.006,"v":16.7},{"t":0.009,"v":16.4},{"t":0.0125,"v":16.22},{"t":0.016,"v":16.3},{"t":0.02,"v":16.5},{"t":0.027,"v":16.65},{"t":0.035,"v":16.7},{"t":0.05,"v":16.69},{"t":0.07,"v":16.66},{"t":0.09,"v":16.65},{"t":0.11,"v":16.62},{"t":0.13,"v":16.6},{"t":0.15,"v":16.59},{"t":0.166,"v":16.6},{"t":0.169,"v":17},{"t":0.172,"v":17.6},{"t":0.175,"v":18.2},{"t":0.178,"v":18.8},{"t":0.181,"v":19.3},{"t":0.184,"v":19.6},{"t":0.188,"v":19.75},{"t":0.195,"v":19.78},{"t":0.21,"v":19.83},{"t":0.23,"v":19.85},{"t":0.27,"v":19.85},{"t":0.3,"v":19.84},{"t":0.31,"v":19.8},{"t":0.33,"v":19.79},{"t":0.36,"v":19.78},{"t":0.38,"v":19.8},{"t":0.41,"v":19.79},{"t":0.44,"v":19.8},{"t":0.459,"v":19.78}
],
"eon":[
{"t":-0.12,"s":"Vormals Blindleistung","v":0},{"t":0,"s":"Vormals Blindleistung","v":0.85},{"t":0.175,"s":"Vormals Blindleistung","v":0},{"t":0.459,"s":"Vormals Blindleistung","v":0},
{"t":-0.12,"s":"Netz >90%","v":1.05},{"t":0,"s":"Netz >90%","v":1.85},{"t":0.175,"s":"Netz >90%","v":1.03},{"t":0.459,"s":"Netz >90%","v":1.03},
{"t":-0.12,"s":"Ausserhalb von E.ON","v":2.11},{"t":0.459,"s":"Ausserhalb von E.ON","v":2.11}
]
},
"vconcat":[
{"title":"Netzspannung [kV]","width":762,"height":112,"data":{"name":"w"},
"transform":[{"fold":["a","b","c"],"as":["s","v"]}],
"mark":{"type":"line","interpolate":"cardinal","strokeWidth":1.3,"clip":true},
"encoding":{
"x":{"field":"t","type":"quantitative","scale":{"domain":[-0.12,0.459],"nice":false},"axis":{"values":[-0.1,0,0.1,0.2,0.3,0.4],"labels":false,"title":null}},
"y":{"field":"v","type":"quantitative","scale":{"domain":[-15,12],"nice":false,"zero":false},"axis":{"values":[-10,0,10],"title":null}},
"color":{"field":"s","type":"nominal","scale":{"domain":["a","b","c"],"range":["#8dbac6","#2d8a78","#e8875b"]},"legend":{"title":null,"labelExpr":"datum.label=='a'?'Phase R':datum.label=='b'?'Phase S':'Phase T'"}}}},
{"title":"Netzspannung (ABS) [kV]","width":762,"height":113,"data":{"name":"abs"},
"mark":{"type":"line","interpolate":"monotone","strokeWidth":1.5,"clip":true},
"encoding":{
"x":{"field":"t","type":"quantitative","scale":{"domain":[-0.12,0.459],"nice":false},"axis":{"values":[-0.1,0,0.1,0.2,0.3,0.4],"labels":false,"title":null}},
"y":{"field":"v","type":"quantitative","scale":{"domain":[16.15,20.35],"nice":false,"zero":false},"axis":{"values":[17,18,19,20],"title":null}},
"color":{"datum":"Netzspannung (ABS)","type":"nominal","scale":{"range":["#8fbac4"]},"legend":{"title":null,"orient":"bottom-right"}}}},
{"title":"Netzströme [A]","width":762,"height":114,"data":{"name":"w"},
"transform":[{"fold":["d","e","f"],"as":["s","v"]}],
"mark":{"type":"line","interpolate":"cardinal","strokeWidth":1.3,"clip":true},
"encoding":{
"x":{"field":"t","type":"quantitative","scale":{"domain":[-0.12,0.459],"nice":false},"axis":{"values":[-0.1,0,0.1,0.2,0.3,0.4],"labels":false,"title":null}},
"y":{"field":"v","type":"quantitative","scale":{"domain":[-162,140],"nice":false,"zero":false},"axis":{"values":[-100,0,100],"title":null}},
"color":{"field":"s","type":"nominal","scale":{"domain":["d","e","f"],"range":["#8dbac6","#2d8a78","#e8875b"]},"legend":{"title":null,"labelExpr":"datum.label=='d'?'Phase R':datum.label=='e'?'Phase S':'Phase T'"}}}},
{"title":"Umrichterströme [A]","width":762,"height":115,"data":{"name":"w"},
"transform":[{"fold":["g","h","i"],"as":["s","v"]}],
"mark":{"type":"line","interpolate":"cardinal","strokeWidth":1.3,"clip":true},
"encoding":{
"x":{"field":"t","type":"quantitative","scale":{"domain":[-0.12,0.459],"nice":false},"axis":{"values":[-0.1,0,0.1,0.2,0.3,0.4],"labels":false,"title":null}},
"y":{"field":"v","type":"quantitative","scale":{"domain":[-785,820],"nice":false,"zero":false},"axis":{"values":[-500,0,500],"title":null}},
"color":{"field":"s","type":"nominal","scale":{"domain":["g","h","i"],"range":["#8dbac6","#2d8a78","#e8875b"]},"legend":{"title":null,"labelExpr":"datum.label=='g'?'Phase R':datum.label=='h'?'Phase S':'Phase T'"}}}},
{"title":"Zwischenkreisspannung [kV]","width":762,"height":115,"data":{"name":"w"},
"transform":[{"fold":["p","n"],"as":["s","v"]}],
"mark":{"type":"line","strokeWidth":1.3,"clip":true},
"encoding":{
"x":{"field":"t","type":"quantitative","scale":{"domain":[-0.12,0.459],"nice":false},"axis":{"values":[-0.1,0,0.1,0.2,0.3,0.4],"labels":false,"title":null}},
"y":{"field":"v","type":"quantitative","scale":{"domain":[2.2,2.86],"nice":false,"zero":false},"axis":{"values":[2.4,2.6,2.8],"title":null,"labelExpr":"replace(format(datum.value,''),'.',',')"}},
"color":{"field":"s","type":"nominal","scale":{"domain":["p","n"],"range":["#93bfc5","#2d8a78"]},"legend":{"title":null,"labelExpr":"datum.label=='p'?'UD positiv':'UD negativ'"}}}},
{"title":"Netzleistung (+ zum Netz, – vom Netz)","width":762,"height":109,"data":{"name":"w"},
"transform":[{"fold":["w","q"],"as":["s","v"]}],
"mark":{"type":"line","interpolate":"monotone","strokeWidth":1.4,"clip":true},
"encoding":{
"x":{"field":"t","type":"quantitative","scale":{"domain":[-0.12,0.459],"nice":false},"axis":{"values":[-0.1,0,0.1,0.2,0.3,0.4],"labels":false,"title":null}},
"y":{"field":"v","type":"quantitative","scale":{"domain":[-0.55,2.6],"nice":false,"zero":false},"axis":{"values":[0,1,2],"title":null}},
"color":{"field":"s","type":"nominal","scale":{"domain":["w","q"],"range":["#93bcc0","#2d8478"]},"legend":{"title":null,"labelExpr":"datum.label=='w'?'Wirkleistung [MW]':'Blindleistung [Mvar]'"}}}},
{"title":"E.ON-Anteile","width":762,"height":109,"data":{"name":"eon"},
"mark":{"type":"line","interpolate":"step-after","strokeWidth":1.5,"clip":true},
"encoding":{
"x":{"field":"t","type":"quantitative","scale":{"domain":[-0.12,0.459],"nice":false},"axis":{"values":[-0.1,0,0.1,0.2,0.3,0.4],"title":null,"labelPadding":12,"labelExpr":"replace(format(datum.value,''),'.',',')"}},
"y":{"field":"v","type":"quantitative","scale":{"domain":[0,2.55],"nice":false,"zero":false},"axis":{"values":[0,0.5,1,1.5,2,2.5],"title":null,"labelExpr":"replace(format(datum.value,''),'.',',')"}},
"color":{"field":"s","type":"nominal","scale":{"domain":["Vormals Blindleistung","Netz >90%","Ausserhalb von E.ON"],"range":["#8ec3d3","#2f8a6c","#e89a78"]},"legend":{"title":null}}}}
]
}
